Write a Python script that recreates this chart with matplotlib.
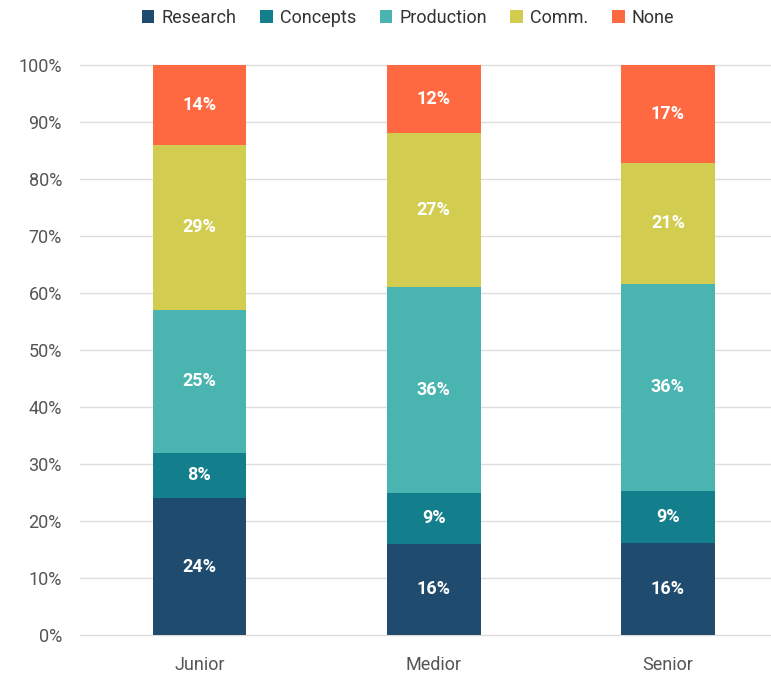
import numpy as np
import matplotlib
matplotlib.use('Agg')
import matplotlib.pyplot as plt

plt.rcParams['font.family'] = ['Roboto', 'DejaVu Sans']

# share of time per activity, by seniority level (percent)
levels = ['Junior', 'Medior', 'Senior']
activities = ['Research', 'Concepts', 'Production', 'Comm.', 'None']
research = [24, 16, 16]
concepts = [8, 9, 9]
production = [25, 36, 36]
comm = [29, 27, 21]
none = [14, 12, 17]
colors = ['#1f4b6e', '#137f8c', '#4ab5b0', '#d2cd50', '#ff6941']

series = np.array([research, concepts, production, comm, none], dtype=float)
# 100% stacked: normalise each column
shares = series / series.sum(axis=0)

fig = plt.figure(figsize=(7.71, 6.81), dpi=100)
ax = fig.add_axes([80/771, 46/681, 1 - 80/771, 570/681])

x = np.arange(len(levels))
bottom = np.zeros(len(levels))
for i, name in enumerate(activities):
    ax.bar(x, shares[i], 0.4, bottom=bottom, color=colors[i], label=name, zorder=2)
    for j in range(len(levels)):
        ax.text(x[j], bottom[j] + shares[i][j] / 2, '%d%%' % series[i][j],
                ha='center', va='center', color='white', fontsize=13,
                fontweight='bold', zorder=3)
    bottom += shares[i]

ax.set_xlim(-0.51, 2.44)
ax.set_ylim(0, 1)
ax.set_yticks(np.arange(0, 1.01, 0.1))
ax.set_yticklabels(['%d%%' % v for v in range(0, 101, 10)])
ax.set_xticks(x)
ax.set_xticklabels(levels)
ax.tick_params(length=0, labelsize=13, labelcolor='#555555', pad=13)
ax.tick_params(axis='x', pad=15)
ax.grid(axis='y', color='#dddddd', linewidth=1, zorder=0)
ax.set_axisbelow(True)
for s in ax.spines.values():
    s.set_visible(False)
for gl in ax.get_ygridlines():
    gl.set_clip_on(False)

handles, labels = ax.get_legend_handles_labels()
fig.legend(handles, labels, loc='center', bbox_to_anchor=(408/771, 1 - 18/681),
           ncol=5, frameon=False, fontsize=13, handlelength=0.7, handleheight=0.7,
           handletextpad=0.4, columnspacing=1.3, labelcolor='#333333')

fig.savefig('out.png', dpi=100)
